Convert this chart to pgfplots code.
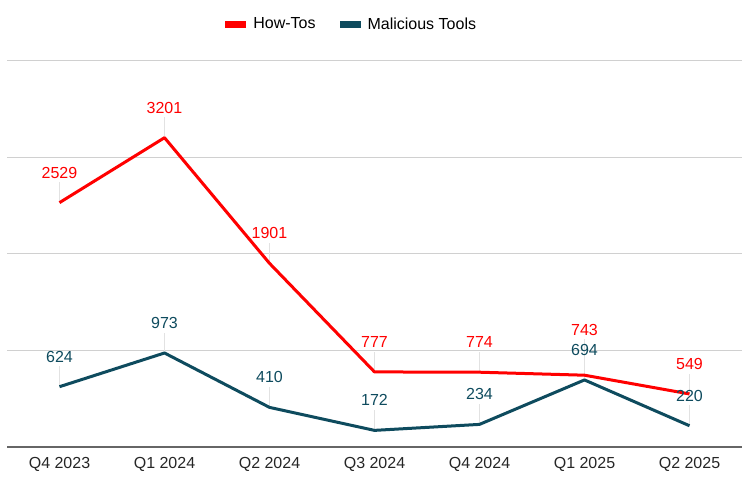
\documentclass[border=0pt]{standalone}
\usepackage{pgfplots}
\usepackage{pgfplotstable}
\usepackage{fontspec}
\pgfplotsset{compat=1.18}
\setmainfont{Liberation Sans}

\definecolor{howred}{HTML}{FF0000}
\definecolor{maltool}{HTML}{0E4B5E}
\definecolor{gridgray}{HTML}{D0D0D0}
\definecolor{basegray}{HTML}{666666}
\definecolor{leadgray}{HTML}{E2E2E2}

% x y lead shift
\pgfplotstableread{
x y lead shift
0 2529 210 30
1 3201 210 30
2 1901 210 30
3 777 210 30
4 774 210 30
5 743 370 45
6 549 210 30
}\howtos

\pgfplotstableread{
x y lead shift
0 624 210 30
1 973 210 30
2 410 210 30
3 172 210 30
4 234 210 30
5 694 210 30
6 220 210 30
}\maltools

\newcommand{\chartfont}{\fontsize{16bp}{19bp}\selectfont}

\begin{document}
\begin{tikzpicture}
\useasboundingbox (0,0) rectangle (750bp,492bp);
\begin{axis}[
    at={(7bp,45bp)}, anchor=south west,
    scale only axis,
    width=735bp, height=386.5bp,
    xmin=-0.5, xmax=6.5,
    ymin=0, ymax=4000,
    axis y line*=left,
    y axis line style={draw=none},
    yticklabel=\empty,
    axis x line*=bottom,
    x axis line style={draw=basegray, line width=2bp, -},
    xtick={0,...,6},
    xticklabels={Q4 2023,Q1 2024,Q2 2024,Q3 2024,Q4 2024,Q1 2025,Q2 2025},
    major tick length=0pt,
    x tick label style={font=\chartfont, text=black!85, yshift=-7bp},
    ytick={1000,2000,3000,4000},
    ymajorgrids=true,
    grid style={draw=gridgray, line width=1bp},
    /pgf/number format/.cd, 1000 sep={}, assume math mode=true, /pgfplots/.cd,
    legend columns=2,
    legend style={at={(0.469,1.094)}, anchor=center, draw=none, fill=none,
        font=\chartfont, /tikz/column 2/.style={column sep=22bp}},
    legend image code/.code={\fill[#1, draw=none] (0bp,-3.5bp) rectangle (21bp,3.5bp);
        \path[draw=none, fill=none] (0bp,0bp) -- (26bp,0bp);},
    clip=false,
]
% leader lines from each point up to its label
\addplot[draw=none, forget plot,
    error bars/.cd, y dir=plus, y explicit, error mark=none,
    error bar style={draw=leadgray, line width=1bp}]
    table[x=x, y=y, y error=lead]{\howtos};
\addplot[draw=none, forget plot,
    error bars/.cd, y dir=plus, y explicit, error mark=none,
    error bar style={draw=leadgray, line width=1bp}]
    table[x=x, y=y, y error=lead]{\maltools};

\addplot[howred, line width=3bp, line join=round, mark=none,
    nodes near coords,
    visualization depends on={\thisrow{shift}\as\lblshift},
    every node near coord/.append style={anchor=center, yshift=\lblshift bp,
        font=\chartfont, text=howred}]
    table[x=x, y=y]{\howtos};
\addlegendentry{How-Tos}

\addplot[maltool, line width=3bp, line join=round, mark=none,
    nodes near coords,
    visualization depends on={\thisrow{shift}\as\lblshift},
    every node near coord/.append style={anchor=center, yshift=\lblshift bp,
        font=\chartfont, text=maltool}]
    table[x=x, y=y]{\maltools};
\addlegendentry{Malicious Tools}
\end{axis}
\end{tikzpicture}
\end{document}
